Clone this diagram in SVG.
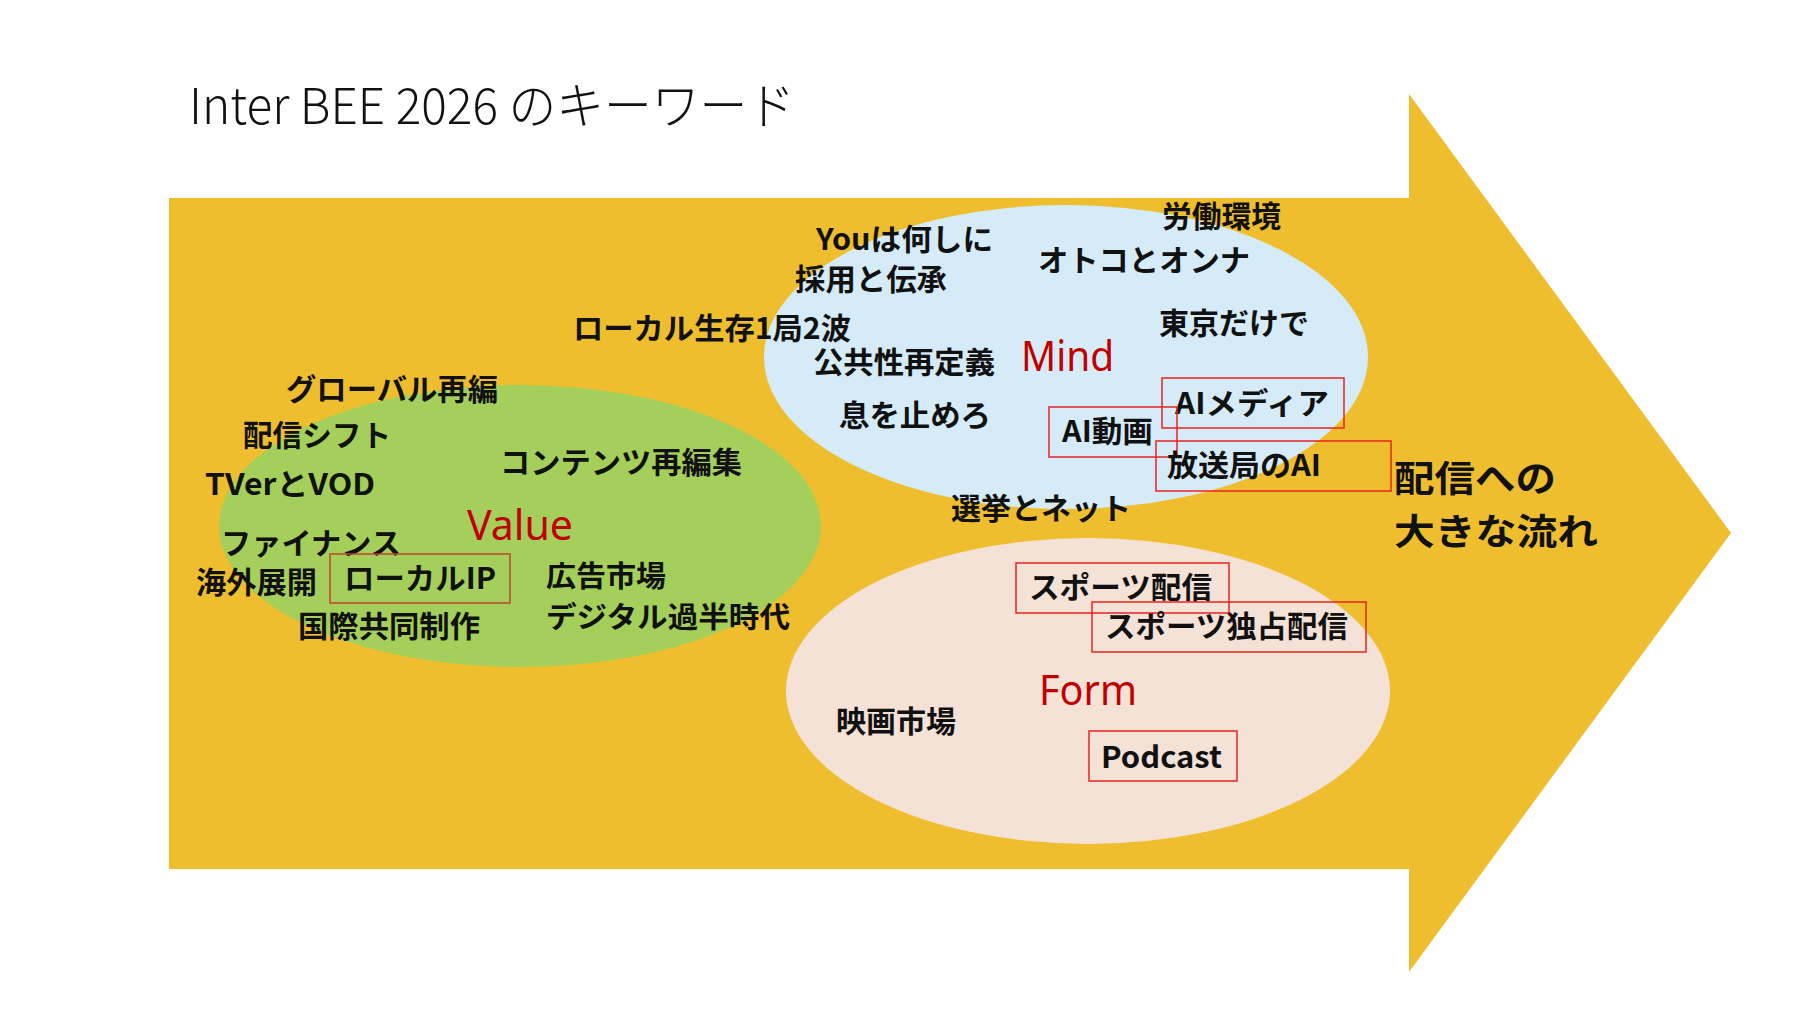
<svg xmlns="http://www.w3.org/2000/svg" width="1814" height="1020" viewBox="0 0 1814 1020">
<style>
.kw{font-family:"Noto Sans CJK JP","Noto Sans",sans-serif;font-weight:700;font-size:30px;fill:#111}
.sm{font-size:29px}
.cat{font-family:"Noto Sans","Noto Sans CJK JP",sans-serif;font-weight:400;font-size:41px;fill:#C00000}
.box{fill:none;stroke:#E8251F;stroke-width:1.5}
.box2{fill:none;stroke:#C0452A;stroke-width:1.5}
.title{font-family:"Noto Sans CJK JP","Noto Sans",sans-serif;font-weight:300;font-size:50px;fill:#111}
.flow{font-family:"Noto Sans CJK JP","Noto Sans",sans-serif;font-weight:700;font-size:36px;fill:#111}
</style>
<rect x="0" y="0" width="1814" height="1020" fill="#FFFFFF"/>
<text id="title" class="title" x="189" y="124" textLength="606" lengthAdjust="spacingAndGlyphs">Inter BEE 2026 のキーワード</text>
<g id="arrow"><polygon points="169,198 1409,198 1409,94 1731,533 1409,972 1409,869 169,869" fill="#EEBE2F"/></g>
<g id="value-area"><ellipse cx="520" cy="526" rx="301" ry="141" fill="#A5CF5B"/></g>
<g id="mind-area"><ellipse cx="1066" cy="357" rx="302" ry="152" fill="#D6EBF8"/></g>
<g id="form-area"><ellipse cx="1088" cy="691" rx="302" ry="153" fill="#F4E2D6"/></g>
<g id="connectors"></g>
<g id="labels">
<text id="mind" class="cat" x="1021" y="371" textLength="93" lengthAdjust="spacingAndGlyphs">Mind</text>
<text id="value" class="cat" x="467" y="540" textLength="106" lengthAdjust="spacingAndGlyphs">Value</text>
<text id="form" class="cat" x="1039" y="705" textLength="98" lengthAdjust="spacingAndGlyphs">Form</text>
</g>
<g id="mind-keywords">
<g id="k-you"><text class="kw" x="816" y="250" textLength="177" lengthAdjust="spacingAndGlyphs">Youは何しに</text></g>
<g id="k-roudou"><text class="kw" x="1162" y="227" textLength="119" lengthAdjust="spacingAndGlyphs">労働環境</text></g>
<g id="k-otoko"><text class="kw" x="1038" y="271" textLength="212" lengthAdjust="spacingAndGlyphs">オトコとオンナ</text></g>
<g id="k-saiyou"><text class="kw" x="795" y="290" textLength="152" lengthAdjust="spacingAndGlyphs">採用と伝承</text></g>
<g id="k-tokyo"><text class="kw" x="1159" y="334" textLength="150" lengthAdjust="spacingAndGlyphs">東京だけで</text></g>
<g id="k-local"><text class="kw" x="573" y="339" textLength="278" lengthAdjust="spacingAndGlyphs">ローカル生存1局2波</text></g>
<g id="k-koukyou"><text class="kw" x="813" y="373" textLength="182" lengthAdjust="spacingAndGlyphs">公共性再定義</text></g>
<g id="k-aimedia"><rect class="box" x="1162" y="378" width="182" height="50"/><text class="kw" x="1175" y="414" textLength="154" lengthAdjust="spacingAndGlyphs">AIメディア</text></g>
<g id="k-iki"><text class="kw" x="839" y="426" textLength="152" lengthAdjust="spacingAndGlyphs">息を止めろ</text></g>
<g id="k-aidouga"><rect class="box" x="1049" y="407" width="128" height="50"/><text class="kw" x="1062" y="442" textLength="91" lengthAdjust="spacingAndGlyphs">AI動画</text></g>
<g id="k-housou"><rect class="box" x="1156" y="441" width="235" height="50"/><text class="kw" x="1167" y="476" textLength="154" lengthAdjust="spacingAndGlyphs">放送局のAI</text></g>
<g id="k-senkyo"><text class="kw" x="951" y="519" textLength="180" lengthAdjust="spacingAndGlyphs">選挙とネット</text></g>
</g>
<g id="value-keywords">
<g id="k-global"><text class="kw" x="286" y="400" textLength="212" lengthAdjust="spacingAndGlyphs">グローバル再編</text></g>
<g id="k-shift"><text class="kw" x="243" y="446" textLength="148" lengthAdjust="spacingAndGlyphs">配信シフト</text></g>
<g id="k-contents"><text class="kw" x="500" y="473" textLength="242" lengthAdjust="spacingAndGlyphs">コンテンツ再編集</text></g>
<g id="k-tver"><text class="kw" x="205" y="495" textLength="170" lengthAdjust="spacingAndGlyphs">TVerとVOD</text></g>
<g id="k-finance"><text class="kw" x="221" y="554" textLength="180" lengthAdjust="spacingAndGlyphs">ファイナンス</text></g>
<g id="k-kaigai"><text class="kw" x="196" y="593" textLength="121" lengthAdjust="spacingAndGlyphs">海外展開</text></g>
<g id="k-localip"><rect class="box2" x="330" y="554" width="180" height="49"/><text class="kw" x="344" y="589" textLength="152" lengthAdjust="spacingAndGlyphs">ローカルIP</text></g>
<g id="k-koukoku"><text class="kw sm" x="546" y="587" textLength="120" lengthAdjust="spacingAndGlyphs">広告市場</text></g>
<g id="k-digital"><text class="kw sm" x="546" y="628" textLength="244" lengthAdjust="spacingAndGlyphs">デジタル過半時代</text></g>
<g id="k-kokusai"><text class="kw" x="298" y="637" textLength="182" lengthAdjust="spacingAndGlyphs">国際共同制作</text></g>
</g>
<g id="form-keywords">
<g id="k-sports"><rect class="box" x="1016" y="563" width="213" height="50"/><text class="kw" x="1029" y="598" textLength="183" lengthAdjust="spacingAndGlyphs">スポーツ配信</text></g>
<g id="k-sports2"><rect class="box" x="1092" y="602" width="274" height="50"/><text class="kw" x="1105" y="637" textLength="243" lengthAdjust="spacingAndGlyphs">スポーツ独占配信</text></g>
<g id="k-eiga"><text class="kw" x="836" y="732" textLength="120" lengthAdjust="spacingAndGlyphs">映画市場</text></g>
<g id="k-podcast"><rect class="box" x="1089" y="731" width="148" height="50"/><text class="kw" x="1101" y="768" textLength="121" lengthAdjust="spacingAndGlyphs">Podcast</text></g>
</g>
<g id="flow-label">
<text class="flow" x="1394" y="492" textLength="162" lengthAdjust="spacingAndGlyphs">配信への</text>
<text class="flow" x="1394" y="545" textLength="204" lengthAdjust="spacingAndGlyphs">大きな流れ</text>
</g>
</svg>
